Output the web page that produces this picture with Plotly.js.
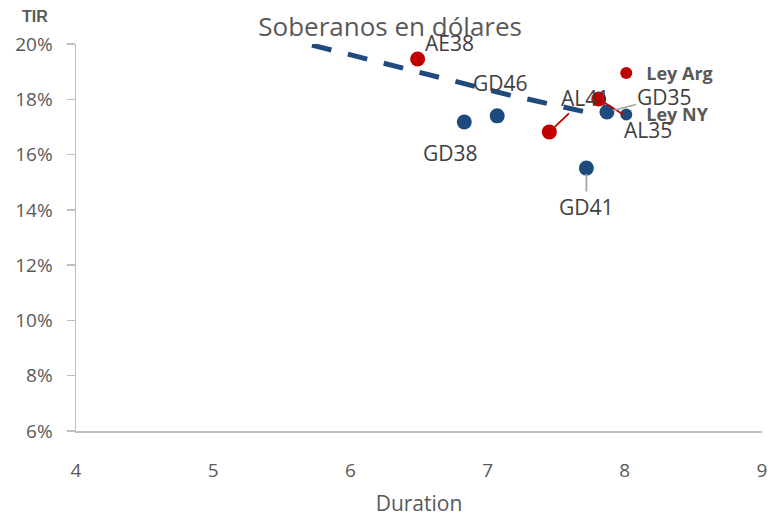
<!DOCTYPE html>
<html><head><meta charset="utf-8">
<script src="https://cdn.plot.ly/plotly-3.0.1.min.js"></script>
<style>html,body{margin:0;padding:0;background:#fff}#c{width:768px;height:518px}</style>
</head><body><div id="c"></div>
<script>
// Data
const argNames = ["AE38", "AL41", "AL35"];
const argDur = [6.49, 7.45, 7.81];
const argTir = [19.46, 16.82, 18.01];

const nyNames = ["GD38", "GD46", "GD41", "GD35"];
const nyDur = [6.83, 7.07, 7.72, 7.87];
const nyTir = [17.18, 17.40, 15.51, 17.54];

// Trend line (dashed)
const trendDur = [5.72, 6.06, 6.60, 7.16, 7.80];
const trendTir = [19.96, 19.53, 18.82, 18.15, 17.45];

const xTicks = [4, 5, 6, 7, 8, 9];
const yTicks = [6, 8, 10, 12, 14, 16, 18, 20];

const RED = "#C00000", BLUE = "#1F4A7E", GRAY = "#595959", TXT = "#404040";
const FONT = "Open Sans, Noto Sans, sans-serif";

const traces = [
  {x: trendDur, y: trendTir, mode: "lines", showlegend: false, hoverinfo: "skip",
   line: {color: BLUE, width: 5, dash: "20px,17px"}, cliponaxis: false},
  {x: argDur, y: argTir, name: "Ley Arg", mode: "markers", legendgroup: "a",
   marker: {color: RED, size: 15}, cliponaxis: false},
  {x: nyDur, y: nyTir, name: "Ley NY", mode: "markers", legendgroup: "b",
   marker: {color: BLUE, size: 15}, cliponaxis: false}
];

// label placement (styling offsets in px)
const labelStyle = {
  "AE38": {dx: 32, dy: -16, arrow: false},
  "AL41": {dx: 36, dy: -34, arrow: true, color: RED},
  "AL35": {dx: 49, dy: 31, arrow: true, color: RED},
  "GD38": {dx: -14, dy: 31, arrow: false},
  "GD46": {dx: 3, dy: -33, arrow: false},
  "GD41": {dx: 0, dy: 39, arrow: true, color: "#A6A6A6"},
  "GD35": {dx: 58, dy: -15, arrow: true, color: "#A6A6A6"}
};

const annotations = [];
function addLabels(names, xs, ys) {
  names.forEach((n, i) => {
    const s = labelStyle[n];
    const a = {x: xs[i], y: ys[i], xref: "x", yref: "y", text: n,
      font: {family: FONT, size: 21, color: TXT}};
    if (s.arrow) {
      Object.assign(a, {showarrow: true, ax: s.dx, ay: s.dy, arrowhead: 0,
        arrowwidth: 1.8, arrowcolor: s.color, standoff: 6, startstandoff: 0});
    } else {
      Object.assign(a, {showarrow: false, xshift: s.dx, yshift: -s.dy});
    }
    annotations.push(a);
  });
}
addLabels(argNames, argDur, argTir);
addLabels(nyNames, nyDur, nyTir);

annotations.push({xref: "paper", yref: "paper", x: -0.06, y: 1.07, xanchor: "center",
  yanchor: "middle", text: "<b>TIR</b>", showarrow: false,
  font: {family: "Liberation Sans Narrow, Liberation Sans, sans-serif", size: 16, color: GRAY}});

const layout = {
  width: 768, height: 518,
  margin: {l: 76, r: 6, t: 44, b: 87},
  paper_bgcolor: "#fff", plot_bgcolor: "#fff",
  font: {family: FONT, color: GRAY},
  title: {text: "Soberanos en dólares", x: 0.508, xref: "container", xanchor: "center",
    y: 0.948, yref: "container", yanchor: "middle",
    font: {family: FONT, size: 26, color: GRAY}},
  xaxis: {range: [4, 9], tickvals: xTicks, ticktext: xTicks.map(String),
    showgrid: false, zeroline: false, showline: true, linecolor: "#BFBFBF", linewidth: 1.5,
    ticks: "", ticklabelstandoff: 22, tickfont: {family: FONT, size: 19, color: GRAY},
    title: {text: "Duration", standoff: 14, font: {family: FONT, size: 21, color: GRAY}}},
  yaxis: {range: [6, 20], tickvals: yTicks, ticktext: yTicks.map(v => v + "%"),
    showgrid: false, zeroline: false, showline: true, linecolor: "#BFBFBF", linewidth: 1.5,
    ticks: "outside", ticklen: 8, tickcolor: "#BFBFBF", tickwidth: 1.5,
    ticklabelstandoff: 10, tickfont: {family: FONT, size: 19, color: GRAY}},
  legend: {x: 0.773, y: 0.972, xanchor: "left", yanchor: "top", bgcolor: "rgba(0,0,0,0)",
    traceorder: "grouped", tracegroupgap: 15, itemsizing: "constant", itemwidth: 30,
    font: {family: FONT, size: 18, color: GRAY, weight: "bold"}},
  annotations: annotations,
  showlegend: true
};

Plotly.newPlot("c", traces, layout, {displayModeBar: false, staticPlot: true});
</script></body></html>
